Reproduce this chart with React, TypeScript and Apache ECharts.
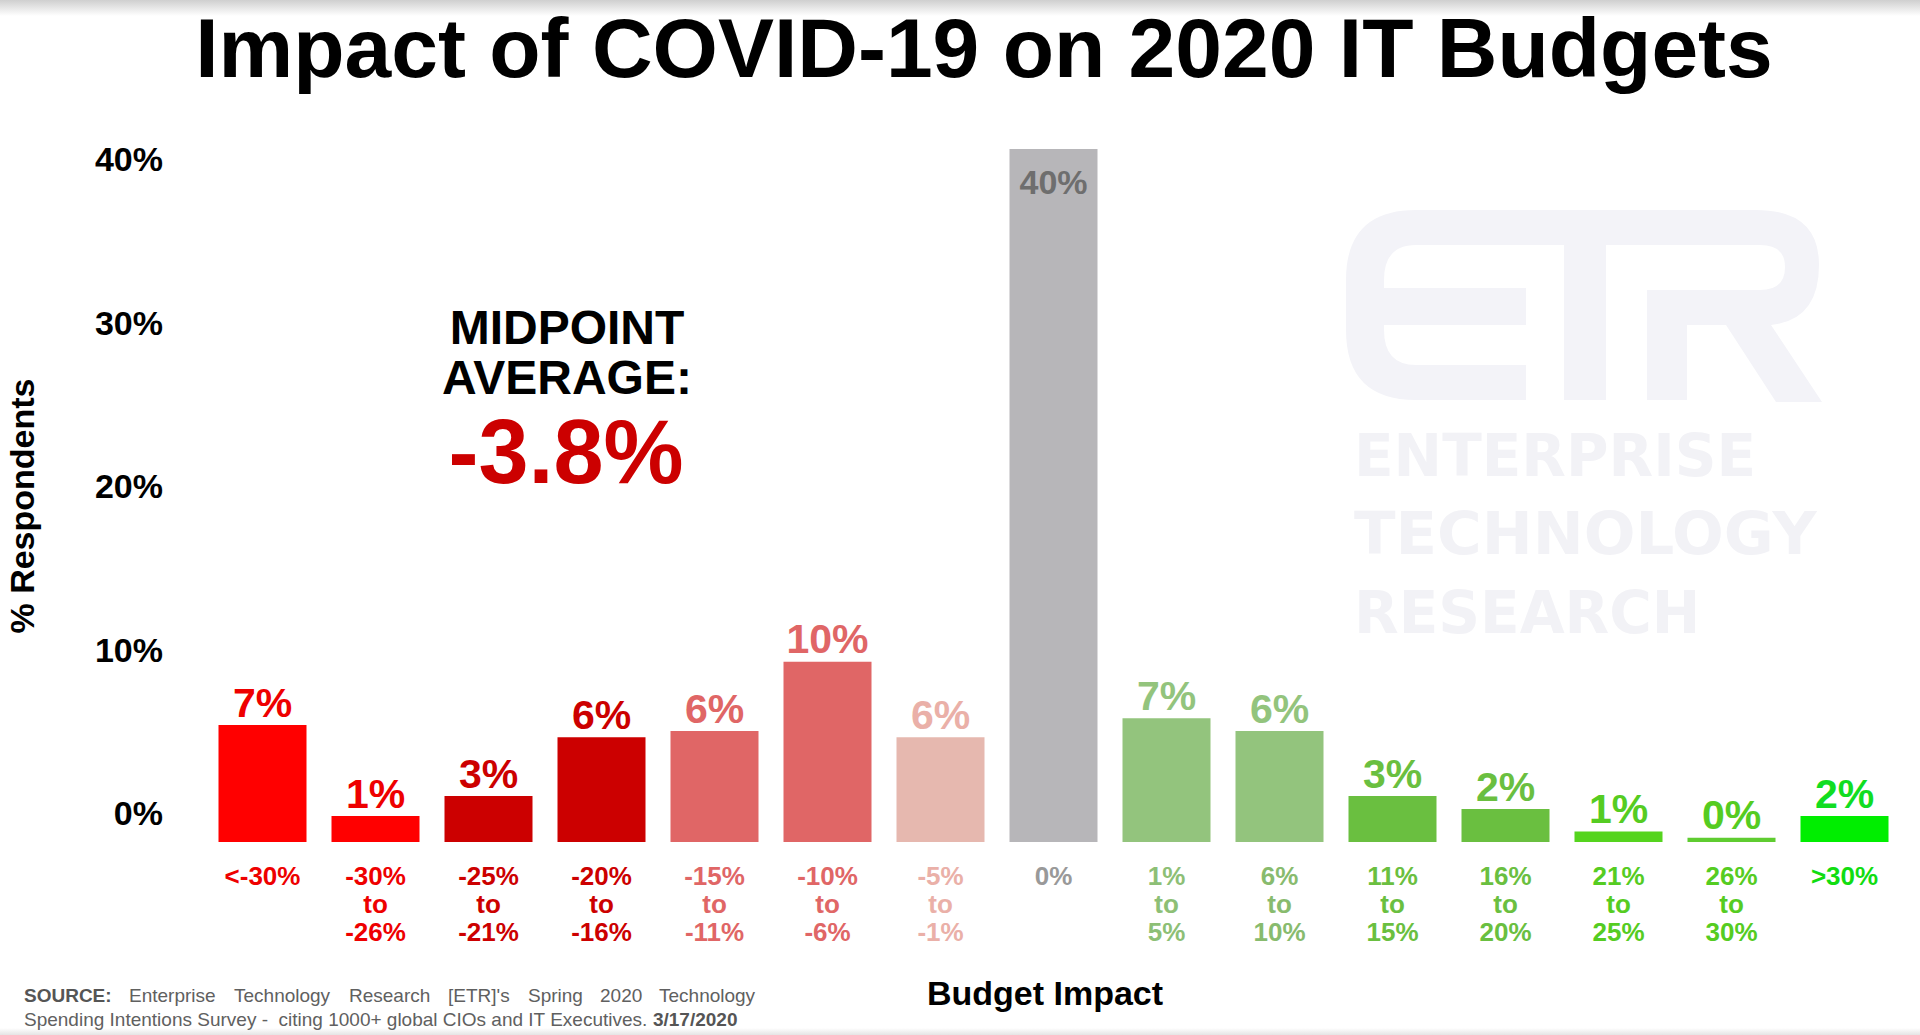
import { useEffect, useRef } from 'react'
import * as echarts from 'echarts'

const FONT = "'Liberation Sans', Arial, sans-serif"

const categories = [
  '<-30%', '-30%\nto\n-26%', '-25%\nto\n-21%', '-20%\nto\n-16%', '-15%\nto\n-11%',
  '-10%\nto\n-6%', '-5%\nto\n-1%', '0%', '1%\nto\n5%', '6%\nto\n10%',
  '11%\nto\n15%', '16%\nto\n20%', '21%\nto\n25%', '26%\nto\n30%', '>30%'
]

// bar heights as drawn in the slide (percent of respondents)
const respondents = [6.75, 1.5, 2.65, 6.05, 6.4, 10.4, 6.05, 40, 7.15, 6.4, 2.65, 1.9, 0.6, 0.25, 1.5]

// rounded labels printed on the bars
const valueLabels = ['7%', '1%', '3%', '6%', '6%', '10%', '6%', '40%', '7%', '6%', '3%', '2%', '1%', '0%', '2%']

const barColors = [
  '#ff0000', '#ff0000', '#cc0000', '#cc0000', '#e06666', '#e06666', '#e6b8af', '#b7b6b9',
  '#93c47d', '#93c47d', '#6abf40', '#6abf40', '#55d41e', '#5fcc30', '#00ee00'
]

const labelColors = [
  '#ee0000', '#ee0000', '#cc0000', '#cc0000', '#e06666', '#e06666', '#eab0a8', '#6e6e6e',
  '#93c47d', '#93c47d', '#6abf40', '#6abf40', '#55cc22', '#55cc22', '#11dd22'
]

const categoryColors = [
  '#ee0000', '#ee0000', '#cc0000', '#cc0000', '#e06666', '#e06666', '#eab0a8', '#999999',
  '#8dbf76', '#88bb6e', '#6abf40', '#6abf40', '#55cc22', '#55cc22', '#11dd11'
]

const sourceWords = ['Enterprise', 'Technology', 'Research', "[ETR]'s", 'Spring', '2020', 'Technology']
const sourceWordX = [129, 234, 349, 448, 528, 600, 659]

const ETR_LOGO =
  'M70 0 L218 0 L218 35 L70 35 Q38 35 38 70 L38 120 Q38 155 70 155 L180 155 L180 190 L70 190 Q0 190 0 120 L0 70 Q0 0 70 0 Z ' +
  'M38 78 L180 78 L180 115 L38 115 Z ' +
  'M218 0 L260 0 L260 190 L218 190 Z ' +
  'M260 0 L410 0 Q473 0 473 55 Q473 110 425 115 L476 192 L430 192 L380 115 L341 115 L341 190 L301 190 L301 80 L414 80 Q439 80 439 57 Q439 35 414 35 L260 35 Z'

echarts.graphic.registerShape('etrLogo', echarts.graphic.extendPath(ETR_LOGO, {}))

export default function App() {
  const chartRef = useRef<HTMLDivElement>(null)

  useEffect(() => {
    if (!chartRef.current) return
    const chart = echarts.init(chartRef.current, undefined, { renderer: 'svg' })

    const option: echarts.EChartsOption = {
      animation: false,
      backgroundColor: '#ffffff',
      textStyle: { fontFamily: FONT },
      grid: [
        { left: 206, right: 19, top: 149, bottom: 193 },
        { left: 170, width: 100, top: 159, bottom: 222 }
      ],
      xAxis: [
        {
          type: 'category',
          gridIndex: 0,
          data: categories.map((c, i) => ({ value: c, textStyle: { color: categoryColors[i] } })),
          axisLine: { show: false },
          axisTick: { show: false },
          axisLabel: {
            interval: 0,
            margin: 20,
            fontSize: 26,
            lineHeight: 28,
            fontWeight: 'bold',
            fontFamily: FONT
          }
        },
        { type: 'value', gridIndex: 1, show: false }
      ],
      yAxis: [
        { type: 'value', gridIndex: 0, min: 0, max: 40, show: false },
        {
          type: 'value',
          gridIndex: 1,
          min: 0,
          max: 40,
          interval: 10,
          axisLine: { show: false },
          axisTick: { show: false },
          splitLine: { show: false },
          axisLabel: {
            formatter: '{value}%',
            margin: 7,
            fontSize: 34,
            fontWeight: 'bold',
            color: '#000000',
            fontFamily: FONT
          }
        }
      ],
      series: [
        {
          type: 'bar',
          xAxisIndex: 0,
          yAxisIndex: 0,
          barWidth: 88,
          data: respondents.map((v, i) => ({
            value: v,
            itemStyle: { color: barColors[i] },
            label: i === 7
              ? { position: 'insideTop', distance: 16, fontSize: 34, color: labelColors[i] }
              : { color: labelColors[i] }
          })),
          label: {
            show: true,
            position: 'top',
            distance: 2,
            fontSize: 41,
            fontWeight: 'bold',
            fontFamily: FONT,
            formatter: (p: any) => valueLabels[p.dataIndex]
          }
        }
      ],
      graphic: [
        {
          type: 'rect',
          silent: true,
          z: -10,
          shape: { x: 0, y: 0, width: 1920, height: 16 },
          style: {
            fill: new echarts.graphic.LinearGradient(0, 0, 0, 1, [
              { offset: 0, color: '#cfcfcf' },
              { offset: 1, color: '#ffffff' }
            ])
          }
        },
        {
          type: 'rect',
          silent: true,
          z: -10,
          shape: { x: 0, y: 1028, width: 1920, height: 7 },
          style: {
            fill: new echarts.graphic.LinearGradient(0, 0, 0, 1, [
              { offset: 0, color: '#ffffff' },
              { offset: 1, color: '#e4e4e4' }
            ])
          }
        },
        {
          type: 'etrLogo',
          silent: true,
          z: -5,
          x: 1346,
          y: 210,
          style: { fill: '#f3f3f8' }
        } as any,
        ...['ENTERPRISE', 'TECHNOLOGY', 'RESEARCH'].map((t, i) => ({
          type: 'text' as const,
          silent: true,
          z: -5,
          x: 1354,
          y: [456, 534, 613][i],
          scaleX: i === 1 ? 1.05 : 1,
          style: {
            text: t,
            fill: '#f2f2f6',
            fontSize: 58,
            fontWeight: 'bold' as const,
            fontFamily: "'DejaVu Sans', sans-serif",
            align: 'left' as const,
            verticalAlign: 'middle' as const
          }
        })),
        {
          type: 'text',
          x: 984,
          y: 48,
          style: {
            text: 'Impact of COVID-19 on 2020 IT Budgets',
            fill: '#000000',
            fontSize: 84,
            fontWeight: 'bold',
            fontFamily: FONT,
            align: 'center',
            verticalAlign: 'middle'
          }
        },
        {
          type: 'text',
          x: 567,
          y: 352,
          style: {
            text: 'MIDPOINT\nAVERAGE:',
            fill: '#000000',
            fontSize: 48,
            lineHeight: 50,
            fontWeight: 'bold',
            fontFamily: FONT,
            align: 'center',
            verticalAlign: 'middle'
          }
        },
        {
          type: 'text',
          x: 566,
          y: 452,
          style: {
            text: '-3.8%',
            fill: '#cc0000',
            fontSize: 90,
            fontWeight: 'bold',
            fontFamily: FONT,
            align: 'center',
            verticalAlign: 'middle'
          }
        },
        {
          type: 'text',
          x: 22,
          y: 506,
          rotation: Math.PI / 2,
          style: {
            text: '% Respondents',
            fill: '#000000',
            fontSize: 34,
            fontWeight: 'bold',
            fontFamily: FONT,
            align: 'center',
            verticalAlign: 'middle'
          }
        },
        {
          type: 'text',
          x: 1045,
          y: 993,
          style: {
            text: 'Budget Impact',
            fill: '#000000',
            fontSize: 34,
            fontWeight: 'bold',
            fontFamily: FONT,
            align: 'center',
            verticalAlign: 'middle'
          }
        },
        {
          type: 'text',
          x: 24,
          y: 995,
          style: {
            text: 'SOURCE:',
            fill: '#555555',
            fontSize: 19,
            fontWeight: 'bold',
            fontFamily: FONT,
            align: 'left',
            verticalAlign: 'middle'
          }
        },
        ...sourceWords.map((w, i) => ({
          type: 'text' as const,
          x: sourceWordX[i],
          y: 995,
          style: {
            text: w,
            fill: '#606060',
            fontSize: 19,
            fontFamily: FONT,
            align: 'left' as const,
            verticalAlign: 'middle' as const
          }
        })),
        {
          type: 'text',
          x: 24,
          y: 1019,
          style: {
            text: '{n|Spending Intentions Survey -  citing 1000+ global CIOs and IT Executives. }{b|3/17/2020}',
            fill: '#606060',
            fontSize: 19,
            fontFamily: FONT,
            align: 'left',
            verticalAlign: 'middle',
            rich: {
              n: { fontSize: 19, fontFamily: FONT, fill: '#606060' },
              b: { fontSize: 19, fontFamily: FONT, fontWeight: 'bold', fill: '#555555' }
            }
          }
        } as any
      ]
    }

    chart.setOption(option)
    return () => chart.dispose()
  }, [])

  return (
    <div
      ref={chartRef}
      style={{ position: 'fixed', left: 0, top: 0, width: 1920, height: 1035, background: '#ffffff' }}
    />
  )
}
